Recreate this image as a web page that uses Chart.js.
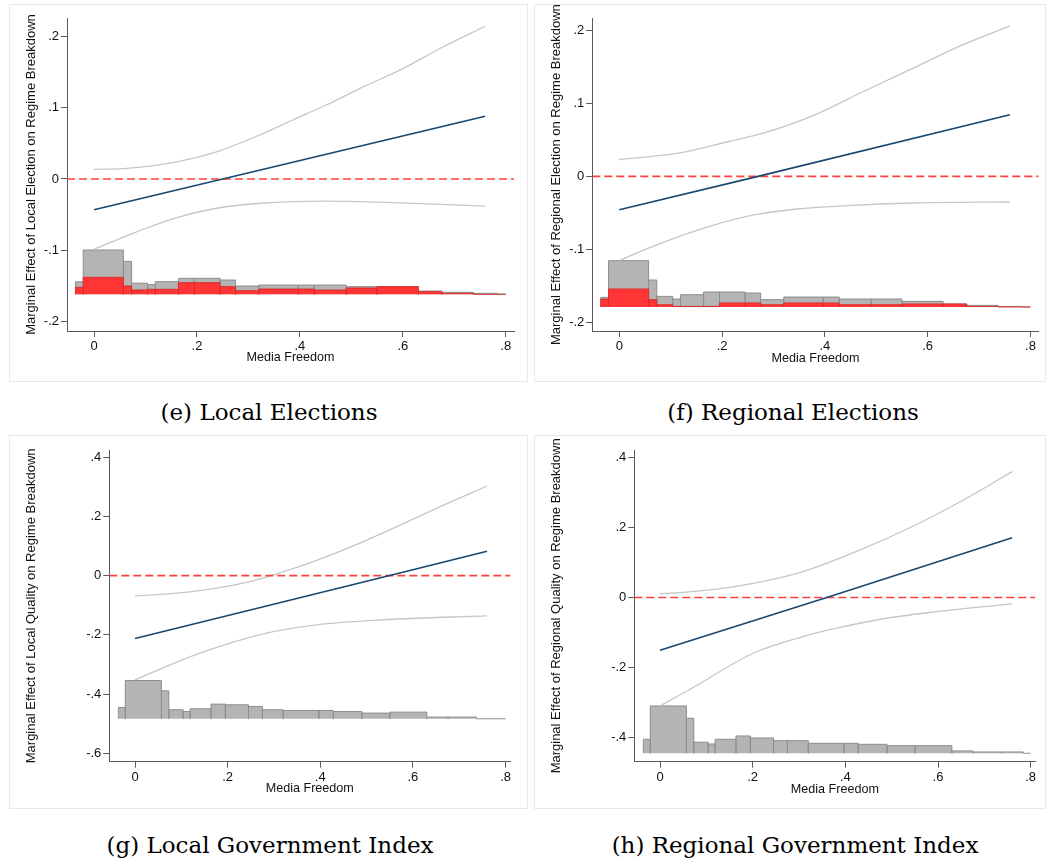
<!DOCTYPE html>
<html>
<head>
<meta charset="utf-8">
<script src="https://cdn.jsdelivr.net/npm/chart.js@4.4.1/dist/chart.umd.min.js"></script>
<style>
  body { margin: 0; width: 1046px; height: 865px; background: #fff; position: relative; overflow: hidden; }
  .box { position: absolute; border: 1px solid #e4e9ed; box-sizing: border-box; }
  canvas { position: absolute; }
  .cap { position: absolute; width: 520px; text-align: center; font-family: "DejaVu Serif", serif; font-size: 23px; line-height: 28px; color: #000; }
</style>
</head>
<body>
<div class="box" style="left:9px;top:4px;width:519px;height:378px"></div>
<div class="box" style="left:534px;top:4px;width:512px;height:378px"></div>
<div class="box" style="left:9px;top:435px;width:519px;height:374px"></div>
<div class="box" style="left:534px;top:435px;width:512px;height:374px"></div>

<canvas id="localElection" width="517" height="376" style="left:10px;top:5px"></canvas>
<canvas id="regionalElection" width="512" height="377" style="left:534px;top:4px"></canvas>
<canvas id="localQuality" width="517" height="373" style="left:10px;top:435px"></canvas>
<canvas id="regionalQuality" width="512" height="373" style="left:534px;top:435px"></canvas>

<div class="cap" style="left:9px;top:398px">(e) Local Elections</div>
<div class="cap" style="left:533px;top:398px">(f) Regional Elections</div>
<div class="cap" style="left:10px;top:831px">(g) Local Government Index</div>
<div class="cap" style="left:535px;top:831px">(h) Regional Government Index</div>

<script>
Chart.defaults.font.family = '"Liberation Sans", Arial, sans-serif';
Chart.defaults.color = '#111';

const axisColor = '#5a5a5a';
const effectColor = '#1a476f';
const ciColor = '#c6c6c6';
const zeroColor = '#ff4040';
const grayFill = '#b4b4b4';
const grayEdge = '#8e8e8e';
const redFill = '#ff3535';
const redEdge = '#d83030';

// shared x axis
const xTicks = [0, 0.2, 0.4, 0.6, 0.8];
const xTickLabels = ['0', '.2', '.4', '.6', '.8'];

// histogram bin edges (media freedom), same for every panel
const histEdges = [-0.036, -0.021, 0.057, 0.073, 0.104, 0.119, 0.164, 0.195, 0.245, 0.275, 0.32, 0.397, 0.428, 0.49, 0.55, 0.63, 0.676, 0.737, 0.784, 0.80];

// (e) Local Elections
const eYTicks = [-0.2, -0.1, 0, 0.1, 0.2];
const eYTickLabels = ['-.2', '-.1', '0', '.1', '.2'];
const eEffectX = [0, 0.25, 0.76];
const eEffect = [-0.043, 0, 0.088];
const eUpperX = [0, 0.064, 0.161, 0.238, 0.323, 0.387, 0.452, 0.517, 0.601, 0.678, 0.76];
const eUpper = [0.0136, 0.015, 0.024, 0.038, 0.062, 0.083, 0.104, 0.127, 0.155, 0.185, 0.214];
const eLowerX = [0, 0.083, 0.161, 0.238, 0.323, 0.452, 0.581, 0.76];
const eLower = [-0.0985, -0.074, -0.054, -0.041, -0.034, -0.031, -0.033, -0.038];
const eHistBase = -0.1616;
const eHistGray = [-0.144, -0.0995, -0.1154, -0.146, -0.148, -0.1439, -0.1392, -0.1392, -0.1416, -0.150, -0.1486, -0.1486, -0.1486, -0.1509, -0.1509, -0.157, -0.1588, -0.1602, -0.1612];
const eHistRed = [-0.1518, -0.1378, -0.150, -0.1555, -0.1546, -0.1546, -0.1453, -0.1453, -0.1509, -0.1565, -0.1542, -0.1542, -0.1556, -0.1528, -0.1509, -0.1579, -0.1602, -0.1616, -0.1616];

// (f) Regional Elections
const fYTicks = [-0.2, -0.1, 0, 0.1, 0.2];
const fYTickLabels = ['-.2', '-.1', '0', '.1', '.2'];
const fEffectX = [0, 0.27, 0.76];
const fEffect = [-0.0455, 0, 0.0842];
const fUpperX = [0, 0.118, 0.215, 0.28, 0.377, 0.475, 0.572, 0.669, 0.76];
const fUpper = [0.0228, 0.032, 0.048, 0.059, 0.083, 0.116, 0.148, 0.18, 0.2056];
const fLowerX = [0, 0.053, 0.151, 0.248, 0.345, 0.442, 0.572, 0.76];
const fLower = [-0.115, -0.099, -0.0737, -0.0546, -0.0446, -0.040, -0.0364, -0.035];
const fHistBase = -0.1785;
const fHistGray = [-0.1653, -0.1152, -0.1416, -0.164, -0.1676, -0.1617, -0.158, -0.158, -0.1594, -0.1685, -0.1649, -0.1649, -0.1676, -0.1676, -0.1708, -0.1744, -0.1763, -0.1777, -0.1785];
const fHistRed = [-0.1676, -0.1539, -0.1685, -0.1754, -0.1777, -0.1777, -0.1777, -0.173, -0.173, -0.1754, -0.173, -0.173, -0.1754, -0.1754, -0.1744, -0.1744, -0.1777, -0.1785, -0.1785];

// (g) Local Government Index
const gYTicks = [-0.6, -0.4, -0.2, 0, 0.2, 0.4];
const gYTickLabels = ['-.6', '-.4', '-.2', '0', '.2', '.4'];
const gEffectX = [0, 0.55, 0.76];
const gEffect = [-0.212, 0, 0.082];
const gUpperX = [0, 0.09, 0.176, 0.248, 0.299, 0.385, 0.471, 0.558, 0.666, 0.76];
const gUpper = [-0.0685, -0.0594, -0.0425, -0.0202, 0.0024, 0.047, 0.1, 0.16, 0.238, 0.3024];
const gLowerX = [0, 0.14, 0.284, 0.392, 0.536, 0.76];
const gLower = [-0.3517, -0.2617, -0.194, -0.166, -0.149, -0.1359];
const gHistBase = -0.4832;
const gHistGray = [-0.445, -0.354, -0.389, -0.4528, -0.4585, -0.4494, -0.4337, -0.436, -0.4416, -0.4528, -0.455, -0.455, -0.4585, -0.464, -0.4607, -0.4774, -0.4774, -0.4832, -0.4832];

// (h) Regional Government Index
const hYTicks = [-0.4, -0.2, 0, 0.2, 0.4];
const hYTickLabels = ['-.4', '-.2', '0', '.2', '.4'];
const hEffectX = [0, 0.36, 0.76];
const hEffect = [-0.151, 0, 0.171];
const hUpperX = [0, 0.093, 0.201, 0.309, 0.432, 0.547, 0.655, 0.76];
const hUpper = [0.010, 0.0195, 0.0406, 0.074, 0.136, 0.2046, 0.279, 0.36];
const hLowerX = [0, 0.065, 0.201, 0.309, 0.381, 0.489, 0.597, 0.76];
const hLower = [-0.31, -0.2627, -0.1597, -0.112, -0.088, -0.0595, -0.0406, -0.0186];
const hHistBase = -0.4459;
const hHistGray = [-0.4058, -0.3104, -0.3457, -0.4143, -0.4192, -0.4058, -0.3963, -0.4020, -0.4097, -0.4097, -0.4173, -0.4173, -0.4202, -0.4240, -0.4240, -0.4392, -0.4421, -0.4421, -0.4459];


function toPoints(xs, ys) {
  return xs.map((x, i) => ({ x: x, y: ys[i] }));
}

// each bar outlined: up the left edge, across the top, down to the base
function histPoints(edges, tops, base) {
  const pts = [];
  tops.forEach((t, i) => {
    pts.push({ x: edges[i], y: base });
    pts.push({ x: edges[i], y: t });
  });
  pts.push({ x: edges[edges.length - 1], y: base });
  return pts;
}

function histDataset(tops, base, fill, edge, order) {
  return {
    data: histPoints(histEdges, tops, base),
    stepped: true,
    borderColor: edge,
    borderWidth: 1,
    backgroundColor: fill,
    fill: { value: base },
    order: order
  };
}

function drawPanel(canvasId, p) {
  const datasets = [
    { data: toPoints(p.effX, p.eff), borderColor: effectColor, borderWidth: 1.6, order: 0 },
    { data: [{ x: p.xMin, y: 0 }, { x: p.xMax, y: 0 }], borderColor: zeroColor, borderWidth: 1.6, borderDash: [8, 4], order: 1 },
    { data: toPoints(p.upX, p.up), borderColor: ciColor, borderWidth: 1.3, cubicInterpolationMode: 'monotone', order: 2 },
    { data: toPoints(p.loX, p.lo), borderColor: ciColor, borderWidth: 1.3, cubicInterpolationMode: 'monotone', order: 3 },
    histDataset(p.gray, p.base, grayFill, grayEdge, 5)
  ];
  if (p.red) datasets.push(histDataset(p.red, p.base, redFill, redEdge, 4));

  return new Chart(document.getElementById(canvasId), {
    type: 'line',
    data: { datasets: datasets },
    options: {
      responsive: false,
      animation: false,
      events: [],
      layout: { padding: { left: 0, top: p.padTop, right: p.padRight, bottom: p.padBottom } },
      elements: { point: { radius: 0 }, line: { tension: 0 } },
      plugins: { legend: { display: false }, tooltip: { enabled: false } },
      scales: {
        x: {
          type: 'linear',
          min: p.xMin,
          max: p.xMax,
          afterFit: s => { s.height = 45; },
          afterBuildTicks: s => { s.ticks = xTicks.map(v => ({ value: v })); },
          ticks: { callback: (v, i) => xTickLabels[i], font: { size: 13 }, padding: 2, maxRotation: 0, autoSkip: false },
          grid: { drawOnChartArea: false, tickLength: 6, color: axisColor },
          border: { color: axisColor, width: 1 },
          title: { display: true, text: 'Media Freedom', color: '#111', font: { size: 12.6 }, padding: { top: 0, bottom: p.xTitlePad } }
        },
        y: {
          type: 'linear',
          min: p.yMin,
          max: p.yMax,
          afterFit: s => { s.width = p.yWidth; },
          afterBuildTicks: s => { s.ticks = p.yTicks.map(v => ({ value: v })); },
          ticks: { callback: (v, i) => p.yLabels[i], font: { size: 13 }, padding: 2, autoSkip: false },
          grid: { drawOnChartArea: false, tickLength: 6, color: axisColor },
          border: { color: axisColor, width: 1 },
          title: { display: true, text: p.yTitle, color: '#111', font: { size: 13 }, padding: { top: p.yTitlePad, bottom: 0 } }
        }
      }
    }
  });
}

drawPanel('localElection', {
  effX: eEffectX, eff: eEffect, upX: eUpperX, up: eUpper, loX: eLowerX, lo: eLower,
  gray: eHistGray, red: eHistRed, base: eHistBase,
  yTicks: eYTicks, yLabels: eYTickLabels,
  yTitle: 'Marginal Effect of Local Election on Regime Breakdown',
  xMin: -0.0525, xMax: 0.816, yMin: -0.213, yMax: 0.2256,
  yWidth: 57, padTop: 13, padRight: 13, padBottom: 5, xTitlePad: 10.5, yTitlePad: 14
});

drawPanel('regionalElection', {
  effX: fEffectX, eff: fEffect, upX: fUpperX, up: fUpper, loX: fLowerX, lo: fLower,
  gray: fHistGray, red: fHistRed, base: fHistBase,
  yTicks: fYTicks, yLabels: fYTickLabels,
  yTitle: 'Marginal Effect of Regional Election on Regime Breakdown',
  xMin: -0.0525, xMax: 0.816, yMin: -0.2113, yMax: 0.216,
  yWidth: 58.3, padTop: 14.3, padRight: 7.3, padBottom: 5, xTitlePad: 10.2, yTitlePad: 14.3
});

drawPanel('localQuality', {
  effX: gEffectX, eff: gEffect, upX: gUpperX, up: gUpper, loX: gLowerX, lo: gLower,
  gray: gHistGray, base: gHistBase,
  yTicks: gYTicks, yLabels: gYTickLabels,
  yTitle: 'Marginal Effect of Local Quality on Regime Breakdown',
  xMin: -0.0555, xMax: 0.81, yMin: -0.628, yMax: 0.4238,
  yWidth: 99.3, padTop: 15, padRight: 16.8, padBottom: 1.3, xTitlePad: 10.9, yTitlePad: 14
});

drawPanel('regionalQuality', {
  effX: hEffectX, eff: hEffect, upX: hUpperX, up: hUpper, loX: hLowerX, lo: hLower,
  gray: hHistGray, base: hHistBase,
  yTicks: hYTicks, yLabels: hYTickLabels,
  yTitle: 'Marginal Effect of Regional Quality on Regime Breakdown',
  xMin: -0.0555, xMax: 0.81, yMin: -0.47, yMax: 0.422,
  yWidth: 100.3, padTop: 15, padRight: 10.7, padBottom: 1.3, xTitlePad: 9.2, yTitlePad: 15
});
</script>
</body>
</html>
